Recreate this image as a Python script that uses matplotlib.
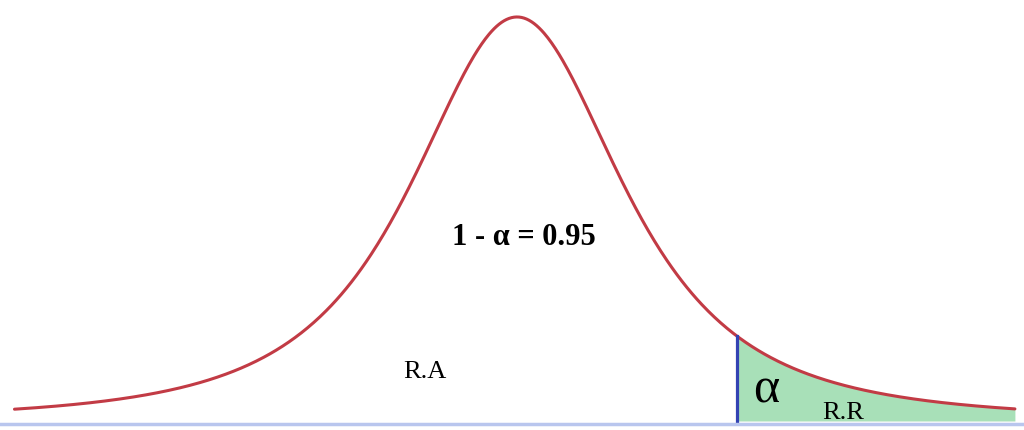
"""Student-t style density with a shaded upper rejection region."""

import numpy as np
import matplotlib

matplotlib.use("Agg")
import matplotlib.pyplot as plt

# curve (standardised units, peak scaled to 1)
df = 2.0
x_start = -4.37
x_end = 4.33
critical_value = 1.91

# labels
label_acceptance = "R.A"
label_rejection = "R.R"
label_confidence = "1 - \u03b1 = 0.95"
label_alpha = "\u03b1"


def t_shape(x, nu):
    return (1.0 + x ** 2 / nu) ** (-(nu + 1.0) / 2.0)


x = np.linspace(x_start, x_end, 800)
y = t_shape(x, df)
tail = x >= critical_value

fig = plt.figure(figsize=(10.24, 4.30), dpi=100)
ax = fig.add_axes([0, 0, 1, 1])
ax.set_xlim(-4.496, 4.409)
ax.set_ylim(-0.0223, 1.042)
ax.axis("off")

ax.fill_between(x[tail], 0, y[tail], color="#a8e0b8", linewidth=0)
ax.plot(x, y, color="#c23b45", linewidth=2.2, solid_capstyle="round")
ax.plot([critical_value, critical_value], [0, t_shape(critical_value, df)],
        color="#3343b3", linewidth=2.3)
ax.axhline(-0.008, color="#b9c6ee", linewidth=2.5)

serif = ["Liberation Serif", "DejaVu Serif"]
ax.text(0.06, 0.436, label_confidence, ha="center", va="baseline",
        fontsize=22, fontweight="bold", family=serif)
ax.text(-0.80, 0.106, label_acceptance, ha="center", va="baseline",
        fontsize=19, family=serif)
ax.text(2.165, 0.045, label_alpha, ha="center", va="baseline",
        fontsize=36, family=serif)
ax.text(2.834, 0.004, label_rejection, ha="center", va="baseline",
        fontsize=19, family=serif)

fig.savefig("out.png", dpi=100)
